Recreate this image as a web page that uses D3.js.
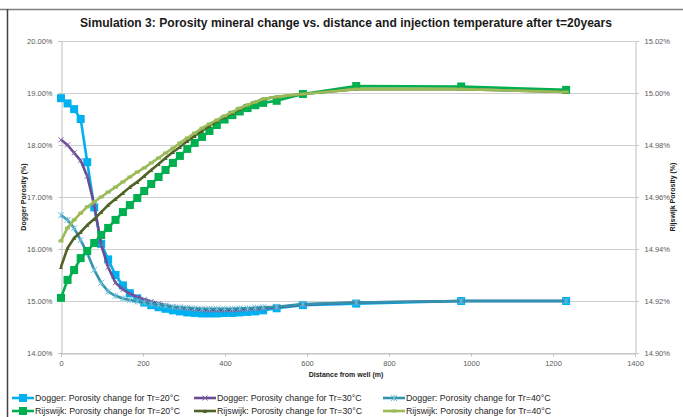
<!DOCTYPE html>
<html><head><meta charset="utf-8">
<script src="https://cdn.jsdelivr.net/npm/d3@7"></script>
<style>body{margin:0;background:#fff}svg{display:block}</style>
</head><body><svg id="c" width="683" height="417"></svg>
<script>
// ---- data ----
const distance = [0,16,32,48,64,81,98,115,133,151,168,186,203,220,238,255,273,290,308,326,344,362,380,399,418,436,455,474,493,526,590,720,976,1232];
const dogger20 = [18.90,18.80,18.69,18.50,17.67,16.80,16.10,15.80,15.50,15.30,15.15,15.05,14.97,14.92,14.88,14.85,14.82,14.80,14.78,14.77,14.76,14.76,14.76,14.77,14.77,14.78,14.79,14.80,14.82,14.86,14.92,14.95,15.00,15.00];
const dogger30 = [18.10,18.00,17.85,17.70,17.40,16.85,16.08,15.65,15.35,15.22,15.14,15.08,15.03,14.99,14.95,14.92,14.89,14.87,14.85,14.84,14.83,14.82,14.82,14.82,14.82,14.83,14.84,14.85,14.86,14.88,14.93,14.97,15.00,15.00];
const dogger40 = [16.65,16.56,16.40,16.17,15.92,15.60,15.35,15.18,15.10,15.05,15.02,14.99,14.97,14.95,14.93,14.91,14.89,14.88,14.87,14.86,14.85,14.85,14.85,14.85,14.85,14.86,14.86,14.87,14.88,14.89,14.94,14.97,15.00,15.00];
const rijswijk20 = [14.9212,14.9281,14.9319,14.9365,14.9392,14.9423,14.9454,14.9481,14.9512,14.9542,14.9569,14.9596,14.9623,14.9650,14.9677,14.9704,14.9731,14.9758,14.9785,14.9808,14.9831,14.9854,14.9877,14.9898,14.9915,14.9929,14.9942,14.9953,14.9962,14.9970,14.9996,15.0027,15.0025,15.0012];
const rijswijk30 = [14.9331,14.9404,14.9442,14.9465,14.9492,14.9515,14.9542,14.9569,14.9592,14.9615,14.9638,14.9658,14.9681,14.9704,14.9727,14.9750,14.9773,14.9792,14.9815,14.9835,14.9854,14.9873,14.9892,14.9908,14.9923,14.9938,14.9954,14.9965,14.9977,14.9985,14.9996,15.0015,15.0015,15.0004];
const rijswijk40 = [14.9431,14.9481,14.9512,14.9538,14.9562,14.9581,14.9600,14.9619,14.9638,14.9658,14.9677,14.9696,14.9712,14.9731,14.9750,14.9769,14.9788,14.9808,14.9827,14.9846,14.9865,14.9881,14.9896,14.9912,14.9927,14.9942,14.9954,14.9965,14.9977,14.9985,14.9996,15.0015,15.0015,15.0004];
const xTicks = [0,200,400,600,800,1000,1200,1400];
const leftTicks = [14,15,16,17,18,19,20];
const rightTicks = [14.90,14.92,14.94,14.96,14.98,15.00,15.02];
const seriesNames = ["Dogger: Porosity change for Tr=20°C","Dogger: Porosity change for Tr=30°C","Dogger: Porosity change for Tr=40°C","Rijswijk: Porosity change for Tr=20°C","Rijswijk: Porosity change for Tr=30°C","Rijswijk: Porosity change for Tr=40°C"];
const titleText = "Simulation 3: Porosity mineral change vs. distance and injection temperature after t=20years";

// ---- chart ----
const svg = d3.select("#c");
const L = 61, R = 635, T = 41, B = 353;
const x = d3.scaleLinear().domain([0,1400]).range([L,R]);
const yL = d3.scaleLinear().domain([14,20]).range([B,T]);
const yR = d3.scaleLinear().domain([14.90,15.02]).range([B,T]);
const font = "'Liberation Sans', Arial, sans-serif";

// frame
svg.append("line").attr("x1",0).attr("x2",683).attr("y1",9.5).attr("y2",9.5).attr("stroke","#7f7f7f").attr("stroke-width",1.5);
svg.append("line").attr("x1",7.5).attr("x2",7.5).attr("y1",9).attr("y2",417).attr("stroke","#404040").attr("stroke-width",1.5);

// gridlines
svg.append("g").selectAll("line").data(leftTicks).join("line")
  .attr("x1",L).attr("x2",R).attr("y1",d=>Math.round(yL(d))+0.5).attr("y2",d=>Math.round(yL(d))+0.5)
  .attr("stroke","#d0d0d0").attr("stroke-width",1);

// axes
const axX = svg.append("g").attr("transform",`translate(0,${B+0.5})`)
  .call(d3.axisBottom(x).tickValues(xTicks).tickSize(3).tickPadding(4).tickFormat(d3.format("d")));
const axL = svg.append("g").attr("transform",`translate(${L+0.5},0)`)
  .call(d3.axisLeft(yL).tickValues(leftTicks).tickSize(3).tickPadding(6).tickFormat(d=>d.toFixed(2)+"%"));
const axR = svg.append("g").attr("transform",`translate(${R+0.5},0)`)
  .call(d3.axisRight(yR).tickValues(rightTicks).tickSize(3).tickPadding(6).tickFormat(d=>d.toFixed(2)+"%"));
[axX,axL,axR].forEach(a=>{
  a.selectAll("path,line").attr("stroke","#bfbfbf");
  a.selectAll("text").attr("fill","#595959").style("font-family",font).style("font-size","7.5px");
});

// titles
svg.append("text").attr("x",346).attr("y",27).attr("text-anchor","middle")
  .attr("textLength",532).attr("lengthAdjust","spacingAndGlyphs")
  .style("font-family",font).style("font-weight","bold").style("font-size","13px").attr("fill","#1a1a1a").text(titleText);
svg.append("text").attr("x",346).attr("y",377).attr("text-anchor","middle")
  .style("font-family",font).style("font-weight","bold").style("font-size","7px").attr("fill","#1a1a1a").text("Distance from well (m)");
svg.append("text").attr("transform",`translate(26,${(T+B)/2}) rotate(-90)`).attr("text-anchor","middle")
  .style("font-family",font).style("font-weight","bold").style("font-size","7px").attr("fill","#1a1a1a").text("Dogger Porosity (%)");
svg.append("text").attr("transform",`translate(675,${(T+B)/2}) rotate(-90)`).attr("text-anchor","middle")
  .style("font-family",font).style("font-weight","bold").style("font-size","7px").attr("fill","#1a1a1a").text("Rijswijk Porosity (%)");

// series definitions
const series = [
  {name:seriesNames[0], vals:dogger20, y:yL, color:"#00B0F0", marker:"square", ms:8, mcolor:"#00B0F0"},
  {name:seriesNames[1], vals:dogger30, y:yL, color:"#6A4C93", marker:"x", ms:5, mcolor:"#8064A2"},
  {name:seriesNames[2], vals:dogger40, y:yL, color:"#3393AE", marker:"star", ms:6, mcolor:"#6FBFD8"},
  {name:seriesNames[3], vals:rijswijk20, y:yR, color:"#00B050", marker:"square", ms:8, mcolor:"#00B050"},
  {name:seriesNames[4], vals:rijswijk30, y:yR, color:"#4F6228", marker:"tri", ms:4, mcolor:"#4F6228"},
  {name:seriesNames[5], vals:rijswijk40, y:yR, color:"#9BBB59", marker:"dash", ms:5, mcolor:"#9BBB59"}
];

function drawMarker(g, type, cx, cy, s, col){
  if(type==="square"){
    g.append("rect").attr("x",cx-s/2).attr("y",cy-s/2).attr("width",s).attr("height",s).attr("fill",col);
  } else if(type==="x"){
    g.append("path").attr("d",`M${cx-s/2},${cy-s/2}L${cx+s/2},${cy+s/2}M${cx-s/2},${cy+s/2}L${cx+s/2},${cy-s/2}`)
      .attr("stroke",col).attr("stroke-width",1).attr("fill","none");
  } else if(type==="star"){
    g.append("path").attr("d",`M${cx-s/2},${cy-s/2}L${cx+s/2},${cy+s/2}M${cx-s/2},${cy+s/2}L${cx+s/2},${cy-s/2}M${cx},${cy-s/2}L${cx},${cy+s/2}`)
      .attr("stroke",col).attr("stroke-width",1).attr("fill","none");
  } else if(type==="tri"){
    g.append("path").attr("d",`M${cx-s/2},${cy+s/2}L${cx},${cy-s/2}L${cx+s/2},${cy+s/2}Z`).attr("fill",col);
  } else if(type==="dash"){
    g.append("rect").attr("x",cx-s/2).attr("y",cy-1.5).attr("width",s).attr("height",3).attr("fill",col);
  }
}

const plot = svg.append("g");
series.forEach(s=>{
  const pts = distance.map((d,i)=>[x(d), s.y(s.vals[i])]);
  plot.append("path").attr("d",d3.line()(pts)).attr("fill","none").attr("stroke",s.color).attr("stroke-width",2.6).attr("stroke-linejoin","round");
  const mg = plot.append("g");
  pts.forEach(p=>drawMarker(mg,s.marker,p[0],p[1],s.ms,s.mcolor));
});

// legend
const legX = [12,194,383], legY = [398,411];
series.forEach((s,i)=>{
  const lx = legX[i%3], ly = legY[Math.floor(i/3)];
  const g = svg.append("g");
  g.append("line").attr("x1",lx).attr("x2",lx+22).attr("y1",ly).attr("y2",ly).attr("stroke",s.color).attr("stroke-width",2.6);
  drawMarker(g,s.marker,lx+11,ly,s.ms,s.mcolor);
  g.append("text").attr("x",lx+23).attr("y",ly+3).style("font-family",font).style("font-size","8.8px").attr("fill","#262626").text(s.name);
});
</script></body></html>
